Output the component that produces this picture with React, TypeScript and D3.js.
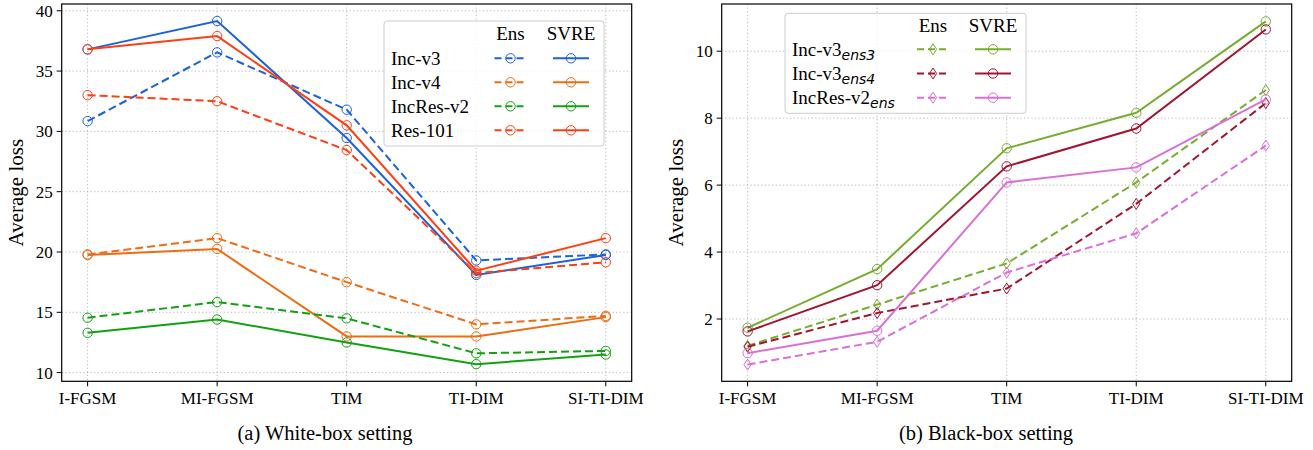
import React from "react";
import * as d3 from "d3";

const attacks = ["I-FGSM", "MI-FGSM", "TIM", "TI-DIM", "SI-TI-DIM"];

// (a) white-box
const whiteModels = ["Inc-v3", "Inc-v4", "IncRes-v2", "Res-101"];
const whiteColors = ["#1c62d8", "#ee6c12", "#12a112", "#fe3f14"];
const whiteEns = [
    [30.85, 36.55, 31.8, 19.3, 19.8],
    [19.8, 21.15, 17.5, 14.0, 14.7],
    [14.55, 15.85, 14.5, 11.6, 11.8],
    [33.0, 32.5, 28.45, 18.25, 19.15],
];
const whiteSvre = [
    [36.8, 39.15, 29.45, 18.1, 19.75],
    [19.75, 20.25, 13.0, 13.0, 14.6],
    [13.3, 14.4, 12.5, 10.7, 11.5],
    [36.8, 37.9, 30.5, 18.45, 21.15],
];
const whiteTicks = [10, 15, 20, 25, 30, 35, 40];

// (b) black-box
const blackModels = [["Inc-v3", "ens3"], ["Inc-v3", "ens4"], ["IncRes-v2", "ens"]];
const blackColors = ["#77ac30", "#a2142f", "#da70d6"];
const blackEns = [
    [1.2, 2.43, 3.66, 6.08, 8.84],
    [1.17, 2.18, 2.91, 5.44, 8.45],
    [0.64, 1.32, 3.39, 4.56, 7.18],
];
const blackSvre = [
    [1.74, 3.49, 7.1, 8.16, 10.89],
    [1.63, 3.01, 6.56, 7.69, 10.65],
    [0.98, 1.65, 6.08, 6.53, 8.56],
];
const blackTicks = [2, 4, 6, 8, 10];

const serif = "'Liberation Serif', 'DejaVu Serif', serif";
const dash = "8,4";

const Marker = ({ x, y, shape, color }) =>
    shape === "diamond" ? (
        <path d={`M${x},${y - 5.5}L${x + 3.6},${y}L${x},${y + 5.5}L${x - 3.6},${y}Z`}
            fill="none" stroke={color} strokeWidth={1} />
    ) : (
        <circle cx={x} cy={y} r={4.7} fill="none" stroke={color} strokeWidth={1} />
    );

const Label = ({ name, x, y }) => (
    <text x={x} y={y} fontFamily={serif} fontSize={19}>
        {Array.isArray(name) ? (
            <>
                {name[0]}
                <tspan fontFamily="'DejaVu Sans', sans-serif" fontStyle="italic" fontSize={14} dy={4}>{name[1]}</tspan>
            </>
        ) : name}
    </text>
);

const Panel = props => {
    const { x0, x1, y0, y1, domain, ticks, models, colors, ens, svre, ensShape, legend, caption, capX } = props;
    const x = d3.scalePoint().domain(attacks).range([x0, x1]).padding(0.2);
    const y = d3.scaleLinear().domain(domain).range([y1, y0]);
    const line = d3.line().x((d, i) => x(attacks[i])).y(d => y(d));
    const lg = legend;

    return (
        <g>
            {/* grid */}
            {attacks.map(a => (
                <line key={a} x1={x(a)} x2={x(a)} y1={y0} y2={y1} stroke="#b0b0b0" strokeWidth={0.9} strokeDasharray="1.2,2.4" />
            ))}
            {ticks.map(t => (
                <line key={t} x1={x0} x2={x1} y1={y(t)} y2={y(t)} stroke="#b0b0b0" strokeWidth={0.9} strokeDasharray="1.2,2.4" />
            ))}

            {/* series */}
            {models.map((m, i) => (
                <g key={i}>
                    <path d={line(ens[i])} fill="none" stroke={colors[i]} strokeWidth={2} strokeDasharray={dash} />
                    {ens[i].map((v, j) => <Marker key={j} x={x(attacks[j])} y={y(v)} shape={ensShape} color={colors[i]} />)}
                    <path d={line(svre[i])} fill="none" stroke={colors[i]} strokeWidth={2} />
                    {svre[i].map((v, j) => <Marker key={j} x={x(attacks[j])} y={y(v)} shape="circle" color={colors[i]} />)}
                </g>
            ))}

            {/* axes frame */}
            <rect x={x0} y={y0} width={x1 - x0} height={y1 - y0} fill="none" stroke="#000" strokeWidth={1.2} />
            {ticks.map(t => (
                <g key={t}>
                    <line x1={x0 - 5} x2={x0} y1={y(t)} y2={y(t)} stroke="#000" strokeWidth={1} />
                    <text x={x0 - 9} y={y(t)} dy="0.35em" textAnchor="end" fontFamily={serif} fontSize={17}>{t}</text>
                </g>
            ))}
            {attacks.map(a => (
                <g key={a}>
                    <line x1={x(a)} x2={x(a)} y1={y1} y2={y1 + 5} stroke="#000" strokeWidth={1} />
                    <text x={x(a)} y={y1 + 23} textAnchor="middle" fontFamily={serif} fontSize={17}>{a}</text>
                </g>
            ))}
            <text transform={`translate(${x0 - 39},${(y0 + y1) / 2}) rotate(-90)`} textAnchor="middle" fontFamily={serif} fontSize={21}>Average loss</text>
            <text x={capX} y={440} textAnchor="middle" fontFamily={serif} fontSize={20.5}>{caption}</text>

            {/* legend */}
            <rect x={lg.x} y={lg.y} width={lg.w} height={lg.h} rx={3} fill="#fff" fillOpacity={0.8} stroke="#cccccc" strokeWidth={1} />
            <text x={lg.ensX} y={lg.headY} textAnchor="middle" fontFamily={serif} fontSize={19}>Ens</text>
            <text x={lg.svreX} y={lg.headY} textAnchor="middle" fontFamily={serif} fontSize={19}>SVRE</text>
            {models.map((m, i) => {
                const cy = lg.rowY + i * lg.rowGap;
                return (
                    <g key={i}>
                        <Label name={m} x={lg.x + 7} y={cy + 6.5} />
                        <line x1={lg.ensX - 16} x2={lg.ensX + 16} y1={cy} y2={cy} stroke={colors[i]} strokeWidth={2} strokeDasharray="7,4" />
                        <Marker x={lg.ensX} y={cy} shape={ensShape} color={colors[i]} />
                        <line x1={lg.svreX - 18} x2={lg.svreX + 18} y1={cy} y2={cy} stroke={colors[i]} strokeWidth={2} />
                        <Marker x={lg.svreX} y={cy} shape="circle" color={colors[i]} />
                    </g>
                );
            })}
        </g>
    );
};

export default function App() {
    return (
        <svg width={1313} height={450} style={{ position: "absolute", left: 0, top: 0, background: "#fff" }}>
            <Panel x0={61.7} x1={631.7} y0={4} y1={381.3} domain={[9.28, 40.56]} ticks={whiteTicks}
                models={whiteModels} colors={whiteColors} ens={whiteEns} svre={whiteSvre} ensShape="circle"
                legend={{ x: 384, y: 21, w: 220, h: 125, headY: 40, rowY: 58.3, rowGap: 24, ensX: 510.5, svreX: 571 }}
                caption="(a) White-box setting" capX={325} />
            <Panel x0={721.7} x1={1291.7} y0={4} y1={381.3} domain={[0.14, 11.41]} ticks={blackTicks}
                models={blackModels} colors={blackColors} ens={blackEns} svre={blackSvre} ensShape="diamond"
                legend={{ x: 785, y: 13.3, w: 241, h: 100, headY: 32, rowY: 49.3, rowGap: 24.2, ensX: 933, svreX: 993 }}
                caption="(b) Black-box setting" capX={986} />
        </svg>
    );
}
